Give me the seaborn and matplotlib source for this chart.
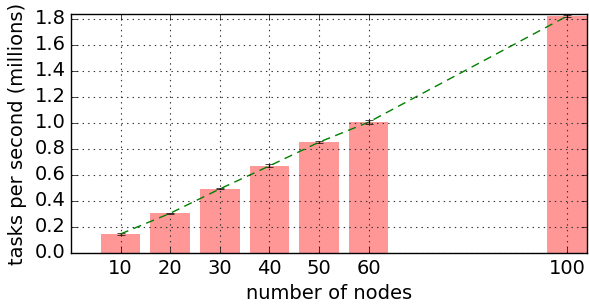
import matplotlib
matplotlib.use("Agg")
import matplotlib.pyplot as plt
import pandas as pd
import numpy as np
import seaborn as sns

# throughput per cluster size
nodes = [10, 20, 30, 40, 50, 60, 100]
tasks = [0.146, 0.305, 0.492, 0.669, 0.851, 1.005, 1.82]
errs = [0.006, 0.004, 0.004, 0.012, 0.008, 0.014, 0.008]

df = pd.DataFrame({"nodes": nodes, "tasks": tasks, "err": errs})

plt.style.use("classic")
plt.rcParams["font.family"] = ["DejaVu Sans"]
plt.rcParams["figure.facecolor"] = "white"

fig = plt.figure(figsize=(5.89, 3.07), dpi=100)
ax = fig.add_axes([0.1205, 0.176, 0.876, 0.778])

sns.barplot(data=df, x="nodes", y="tasks", native_scale=True, width=0.8,
            color="#ff9797", saturation=1, edgecolor="none", errorbar=None, ax=ax)
ax.errorbar(df["nodes"], df["tasks"], yerr=df["err"], fmt="none",
            ecolor="black", capsize=3, elinewidth=1)
sns.lineplot(data=df, x="nodes", y="tasks", color="green", linestyle=(0, (6, 4)),
             linewidth=1, ax=ax)

ax.set_xlim(0, 104)
ax.set_ylim(0, 1.835)
ax.set_xticks(nodes)
ax.set_yticks(np.arange(0, 1.81, 0.2))
ax.tick_params(labelsize=14)
ax.grid(True, linestyle=":", color="#333333", linewidth=0.8)
ax.set_axisbelow(False)
ax.set_xlabel("number of nodes", fontsize=14)
ax.set_ylabel("tasks per second (millions)", fontsize=14)

fig.savefig("out.png")
